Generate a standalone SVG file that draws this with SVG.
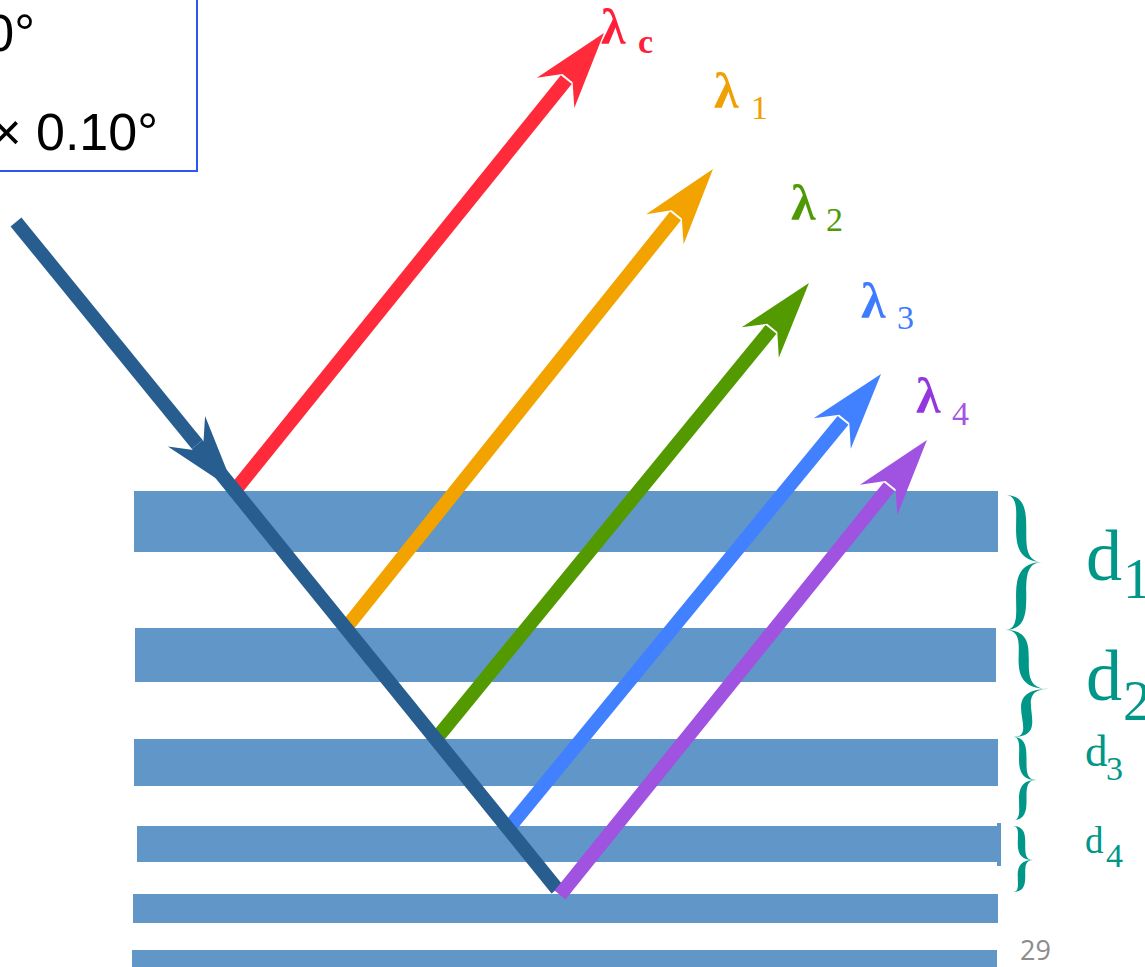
<svg xmlns="http://www.w3.org/2000/svg" width="1145" height="967" viewBox="0 0 1145 967">
<style>
.band{fill:#6196C8}
.ray{fill:none;stroke-width:14;stroke-linecap:butt}
.lam{font-family:"Liberation Serif",serif;font-weight:bold}
.lbl{font-family:"Liberation Serif",serif;fill:#009688}
.brace{fill:#009688}
.box{font-family:"Liberation Sans",Arial,sans-serif;font-size:52px;fill:#000}
</style>
<defs>
<marker id="hDark" markerUnits="userSpaceOnUse" viewBox="-20 -26 82 52" markerWidth="82" markerHeight="52" refX="0" refY="0" orient="auto" overflow="visible"><path d="M60,0 L-17,-24 L2,-6.5 L2,6.5 L-17,24 Z" fill="#275D8F"/></marker>
<marker id="hRed" markerUnits="userSpaceOnUse" viewBox="-20 -26 82 52" markerWidth="82" markerHeight="52" refX="0" refY="0" orient="auto" overflow="visible"><path d="M60,0 L-17,-24 L2,-6.5 L2,6.5 L-17,24 Z" fill="#FF2A3A"/></marker>
<marker id="hOrange" markerUnits="userSpaceOnUse" viewBox="-20 -26 82 52" markerWidth="82" markerHeight="52" refX="0" refY="0" orient="auto" overflow="visible"><path d="M60,0 L-17,-24 L2,-6.5 L2,6.5 L-17,24 Z" fill="#F2A300"/></marker>
<marker id="hGreen" markerUnits="userSpaceOnUse" viewBox="-20 -26 82 52" markerWidth="82" markerHeight="52" refX="0" refY="0" orient="auto" overflow="visible"><path d="M60,0 L-17,-24 L2,-6.5 L2,6.5 L-17,24 Z" fill="#529A00"/></marker>
<marker id="hBlue" markerUnits="userSpaceOnUse" viewBox="-20 -26 82 52" markerWidth="82" markerHeight="52" refX="0" refY="0" orient="auto" overflow="visible"><path d="M60,0 L-17,-24 L2,-6.5 L2,6.5 L-17,24 Z" fill="#4181FF"/></marker>
<marker id="hPurple" markerUnits="userSpaceOnUse" viewBox="-20 -26 82 52" markerWidth="82" markerHeight="52" refX="0" refY="0" orient="auto" overflow="visible"><path d="M60,0 L-17,-24 L2,-6.5 L2,6.5 L-17,24 Z" fill="#A052E0"/></marker>
</defs>
<rect width="1145" height="967" fill="#fff"/>

<g id="info-box">
<rect x="-10" y="-10" width="207" height="181" fill="none" stroke="#2F55F0" stroke-width="2"/>
<text class="box" x="35" y="51" text-anchor="end">0°</text>
<text class="box" x="158" y="150" text-anchor="end">× 0.10°</text>
</g>

<g id="layers">
<rect class="band" x="134" y="491" width="864" height="61"/>
<rect class="band" x="135" y="628" width="861" height="54"/>
<rect class="band" x="134" y="739" width="864" height="47"/>
<rect class="band" x="137" y="826" width="862" height="36"/>
<rect class="band" x="997" y="823" width="4" height="43"/>
<rect class="band" x="133" y="894" width="865" height="29"/>
<rect class="band" x="132" y="950" width="865" height="17"/>
</g>

<g id="connectors">
<path class="ray" d="M234.5,491 L566.3,79.7" stroke="#FF2A3A" marker-end="url(#hRed)"/>
<path class="ray" d="M345.8,628 L675.5,215.9" stroke="#F2A300" marker-end="url(#hOrange)"/>
<path class="ray" d="M436,739 L771,329.4" stroke="#529A00" marker-end="url(#hGreen)"/>
<path class="ray" d="M508.7,828 L843,420.4" stroke="#4181FF" marker-end="url(#hBlue)"/>
<path class="ray" d="M16,222 L197.2,444.4" stroke="#275D8F" marker-end="url(#hDark)"/>
<path class="ray" d="M197.2,444.4 L557,889" stroke="#275D8F"/>
<path class="ray" d="M560,895 L889.3,486.7" stroke="#A052E0" marker-end="url(#hPurple)"/>
</g>

<g id="wavelength-labels">
<text class="lam" fill="#FF1F38"><tspan x="601" y="44" font-size="50">λ</tspan><tspan x="638" y="53" font-size="34">c</tspan></text>
<text class="lam" fill="#F0A000"><tspan x="714" y="108" font-size="50">λ</tspan><tspan x="751" y="119" font-size="34" font-weight="normal">1</tspan></text>
<text class="lam" fill="#4E9A06"><tspan x="791" y="220" font-size="50">λ</tspan><tspan x="826" y="231" font-size="34" font-weight="normal">2</tspan></text>
<text class="lam" fill="#3D7BFF"><tspan x="861" y="318" font-size="50">λ</tspan><tspan x="897" y="329" font-size="34" font-weight="normal">3</tspan></text>
<text class="lam" fill="#9436E0"><tspan x="916" y="413" font-size="50">λ</tspan><tspan x="952" y="425" font-size="34" font-weight="normal" fill="#A455E2">4</tspan></text>
</g>

<g id="braces">
<path class="brace" d="M1005,495 C1046,495 1008,562 1043,562 C1008,562 1046,630 1005,630 C1032.4,630 994.4,562 1043,562 C994.4,562 1032.4,495 1005,495 Z"/>
<path class="brace" d="M1005,630 C1051.4,630 1007.4,689 1049,689 C1008.2,689 1055.4,737 1013,737 C1041.8,737 994.6,689 1049,689 C993.8,689 1037.8,630 1005,630 Z"/>
<path class="brace" d="M1013,737 C1038.7,737 1015.7,780 1036,780 C1015.7,780 1038.7,820 1013,820 C1028.7,820 1005.7,780 1036,780 C1005.7,780 1028.7,737 1013,737 Z"/>
<path class="brace" d="M1013,826 C1036,826 1016,860 1033,860 C1016,860 1036,892 1013,892 C1026,892 1006,860 1033,860 C1006,860 1026,826 1013,826 Z"/>
</g>

<g id="spacing-labels">
<text class="lbl"><tspan x="1086" y="580" font-size="72">d</tspan><tspan x="1123" y="598" font-size="56">1</tspan></text>
<text class="lbl"><tspan x="1086" y="700" font-size="72">d</tspan><tspan x="1123" y="720" font-size="56">2</tspan></text>
<text class="lbl"><tspan x="1085" y="766" font-size="45">d</tspan><tspan x="1106" y="780" font-size="34">3</tspan></text>
<text class="lbl"><tspan x="1085" y="853" font-size="37">d</tspan><tspan x="1106" y="867" font-size="34">4</tspan></text>
</g>

<text id="page-number" x="1020" y="960" font-family="'Open Sans','Liberation Sans',sans-serif" font-size="27" fill="#8C8C8C">29</text>
</svg>
